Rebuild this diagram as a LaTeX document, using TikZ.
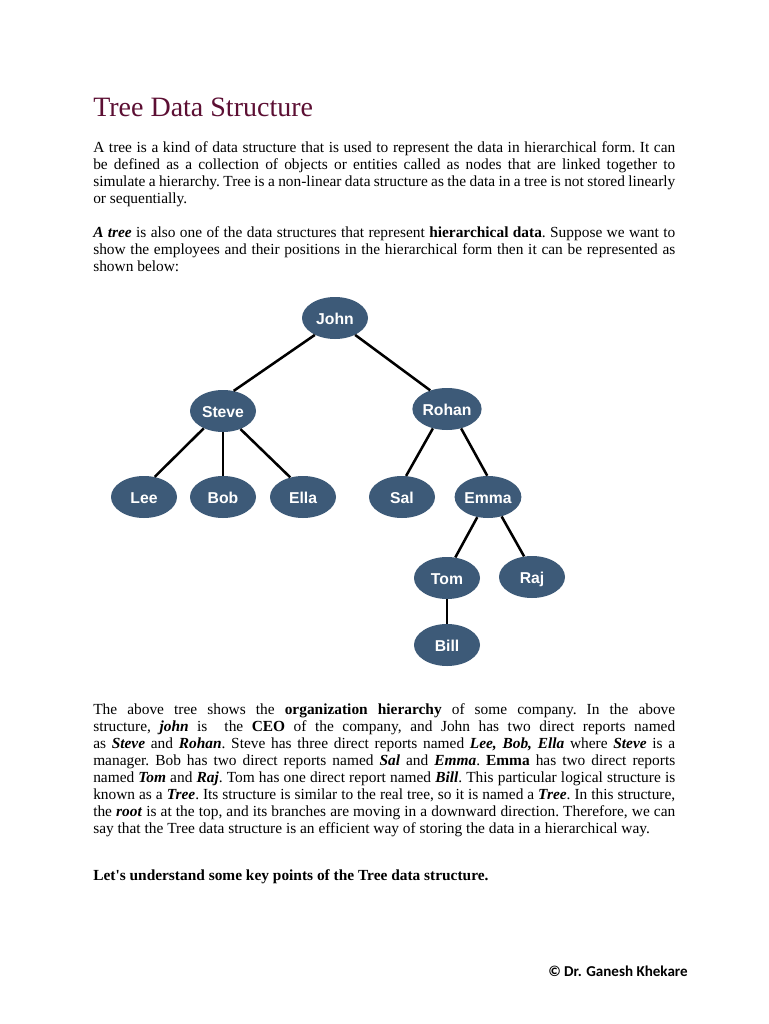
\documentclass[tikz,border=0pt]{standalone}
\usepackage{fontspec}
\setmainfont{Liberation Serif}
\newfontfamily\nodefont{Liberation Sans}
\newfontfamily\footfont{Carlito}
\usetikzlibrary{shapes.geometric}
\definecolor{nodeblue}{HTML}{3D5A78}
\definecolor{titlecol}{HTML}{5C0F33}
\tikzset{
  emp/.style={ellipse, fill=nodeblue, draw=none, minimum width=49.5pt, minimum height=31.5pt,
    inner sep=0pt, text=white, text height=9.6pt, text depth=0pt,
    font=\nodefont\fontsize{11.8pt}{12pt}\selectfont\bfseries},
  link/.style={draw=black, line width=1.9pt},
  jline/.style={anchor=base west, inner sep=0pt, font=\fontsize{11.55pt}{12.75pt}\selectfont\frenchspacing},
}
\newcommand{\jl}[1]{\makebox[436.5pt][s]{#1}}
\newcommand{\bi}[1]{\textbf{\textit{#1}}}
\begin{document}
\begin{tikzpicture}[x=0.75pt, y=-0.75pt]
\useasboundingbox[fill=white] (0,0) rectangle (768,1024);
% title
\node[anchor=base west, inner sep=0pt, text=titlecol, font=\fontsize{21pt}{24pt}\selectfont] (title) at (93,116) {Tree Data Structure};
% paragraph 1
\node[jline] (p1a) at (93,152) {\jl{A tree is a kind of data structure that is used to represent the data in hierarchical form. It can}};
\node[jline] (p1b) at (93,169) {\jl{be defined as a collection of objects or entities called as nodes that are linked together to}};
\node[jline] (p1c) at (93,186) {\jl{simulate a hierarchy. Tree is a non-linear data structure as the data in a tree is not stored linearly}};
\node[jline] (p1d) at (93,203) {or sequentially.};
% paragraph 2
\node[jline] (p2a) at (93,237) {\jl{\bi{A tree} is also one of the data structures that represent \textbf{hierarchical data}. Suppose we want to}};
\node[jline] (p2b) at (93,254) {\jl{show the employees and their positions in the hierarchical form then it can be represented as}};
\node[jline] (p2c) at (93,271) {shown below:};
% tree
\node[emp] (john) at (335,318) {John};
\node[emp] (steve) at (223,411) {Steve};
\node[emp] (rohan) at (447,409) {Rohan};
\node[emp] (lee) at (144,497) {Lee};
\node[emp] (bob) at (223,497) {Bob};
\node[emp] (ella) at (303,497) {Ella};
\node[emp] (sal) at (402,497) {Sal};
\node[emp] (emma) at (488,497) {Emma};
\node[emp] (tom) at (447,578) {Tom};
\node[emp] (raj) at (532,577) {Raj};
\node[emp] (bill) at (447,645) {Bill};
\draw[link] (john.220) -- (steve.62);
\draw[link] (john.320) -- (rohan.132);
\draw[link] (steve.222) -- (lee.62);
\draw[link] (steve.south) -- (bob.north);
\draw[link] (steve.-46) -- (ella.123);
\draw[link] (rohan.234) -- (sal.79);
\draw[link] (rohan.-54) -- (emma.92);
\draw[link] (emma.242) -- (tom.68);
\draw[link] (emma.-55) -- (raj.111);
\draw[link] (tom.south) -- (bill.north);
% paragraph 3
\node[jline] (p3a) at (93,714) {\jl{The above tree shows the \textbf{organization hierarchy} of some company. In the above}};
\node[jline] (p3b) at (93,731) {\jl{structure, \bi{john} is\ \ the \textbf{CEO} of the company, and John has two direct reports named}};
\node[jline] (p3c) at (93,748) {\jl{as \bi{Steve} and \bi{Rohan}. Steve has three direct reports named \bi{Lee, Bob, Ella} where \bi{Steve} is a}};
\node[jline] (p3d) at (93,765) {\jl{manager. Bob has two direct reports named \bi{Sal} and \bi{Emma}. \textbf{Emma} has two direct reports}};
\node[jline] (p3e) at (93,782) {\jl{named \bi{Tom} and \bi{Raj}. Tom has one direct report named \bi{Bill}. This particular logical structure is}};
\node[jline] (p3f) at (93,799) {\jl{known as a \bi{Tree}. Its structure is similar to the real tree, so it is named a \bi{Tree}. In this structure,}};
\node[jline] (p3g) at (93,816) {\jl{the \bi{root} is at the top, and its branches are moving in a downward direction. Therefore, we can}};
\node[jline] (p3h) at (93,833) {say that the Tree data structure is an efficient way of storing the data in a hierarchical way.};
% key points
\node[jline] (p4) at (93,880) {\textbf{Let\textquotesingle s understand some key points of the Tree data structure.}};
% footer
\node[anchor=base west, inner sep=0pt, font=\footfont\fontsize{11.3pt}{13pt}\selectfont\bfseries] (foot) at (548,976) {© Dr. Ganesh Khekare};
\end{tikzpicture}
\end{document}
